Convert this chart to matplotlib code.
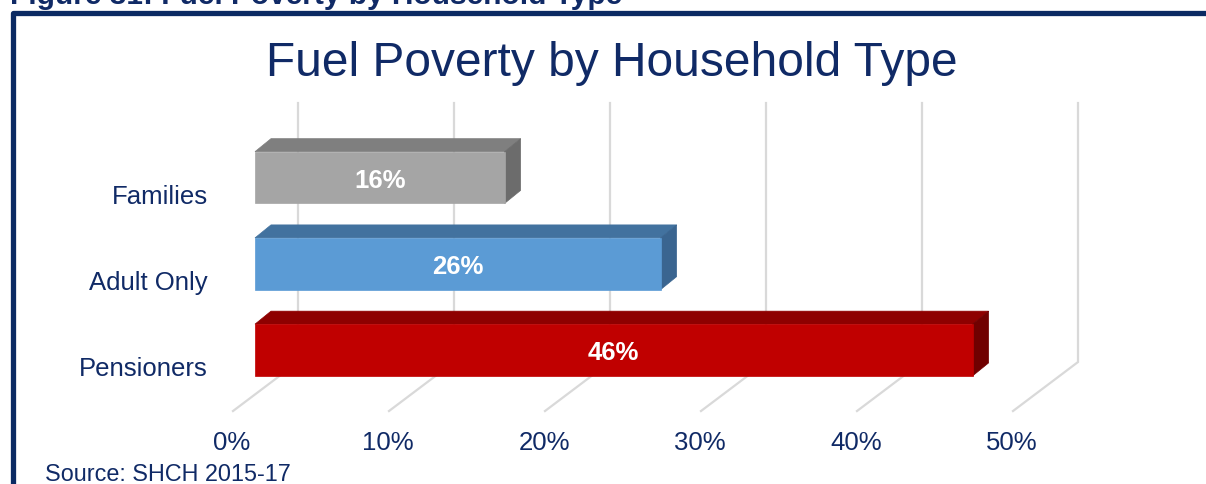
import matplotlib
matplotlib.use("Agg")
import matplotlib.pyplot as plt
from matplotlib.patches import Rectangle, Polygon
from matplotlib.lines import Line2D

plt.rcParams['font.family'] = ['Liberation Sans', 'DejaVu Sans']

# Data
categories = ["Families", "Adult Only", "Pensioners"]
values = [16, 26, 46]
tick_values = [0, 10, 20, 30, 40, 50]
tick_labels = ["0%", "10%", "20%", "30%", "40%", "50%"]

NAVY = "#102A66"
GRID = "#D9D9D9"
front_colors = ["#A5A5A5", "#5B9BD5", "#C00000"]
top_colors = ["#7F7F7F", "#42729F", "#8E0000"]
side_colors = ["#6C6C6C", "#3A6590", "#700000"]

W, H, DPI = 1206, 484, 100
fig = plt.figure(figsize=(W / DPI, H / DPI), dpi=DPI)
fig.patch.set_facecolor("white")

# Plot area (pixel layout of the front plane of the bars)
ax_left, ax_right = 255, 1035
ax_top, ax_bottom = 134.4, 393.15
ax = fig.add_axes([ax_left / W, (H - ax_bottom) / H,
                   (ax_right - ax_left) / W, (ax_bottom - ax_top) / H])
ax.set_xlim(0, 50)
ax.set_ylim(-0.5, 2.5)
ax.axis("off")

PX_X = (ax_right - ax_left) / 50.0      # pixels per percentage point
PX_Y = (ax_bottom - ax_top) / 3.0       # pixels per category step


def shift(x, y, dx_px, dy_px):
    """Offset a data point by a pixel amount (dy positive = up)."""
    return x + dx_px / PX_X, y + dy_px / PX_Y


# Perspective depth of the chart box and of the bars
BACK_DX, BACK_DY = 43, -12     # back wall base relative to the bar front plane
FLOOR_DX, FLOOR_DY = -22, -61  # front edge of the floor
WALL_TOP = 259                 # height of back wall above its base (px)
BAR_DX, BAR_DY = 16, 13
BAR_H = 0.6

# Gridlines: vertical on back wall, diagonal across floor
for v in tick_values:
    bx, by = shift(v, 0, BACK_DX, BACK_DY)
    _, ty = shift(v, 0, BACK_DX, BACK_DY + WALL_TOP)
    fx, fy = shift(v, 0, FLOOR_DX, FLOOR_DY)
    ax.plot([bx, bx, fx], [ty, by, fy], color=GRID, lw=1.6,
            solid_joinstyle="miter", clip_on=False, zorder=1)

# 3D bars
for i, (cat, val) in enumerate(zip(categories, values)):
    y = len(categories) - 1 - i
    yb, yt = y - BAR_H / 2, y + BAR_H / 2
    dx, dy = BAR_DX / PX_X, BAR_DY / PX_Y
    top = Polygon([(0, yt), (val, yt), (val + dx, yt + dy), (dx, yt + dy)],
                  closed=True, facecolor=top_colors[i], edgecolor=top_colors[i],
                  lw=0.5, clip_on=False, zorder=3)
    side = Polygon([(val, yb), (val, yt), (val + dx, yt + dy), (val + dx, yb + dy)],
                   closed=True, facecolor=side_colors[i], edgecolor=side_colors[i],
                   lw=0.5, clip_on=False, zorder=3)
    front = Rectangle((0, yb), val, BAR_H, facecolor=front_colors[i],
                      edgecolor=front_colors[i], lw=0.5, clip_on=False, zorder=4)
    for p in (top, side, front):
        ax.add_patch(p)
    ax.text(val / 2, y - 3 / PX_Y, f"{val}%", ha="center", va="center",
            color="white", fontsize=18.5, fontweight="bold", zorder=5)
    lx, ly = shift(0, y, -47, -19)
    ax.text(lx, ly, cat, ha="right", va="center", color=NAVY, fontsize=18.5,
            clip_on=False)

# Value axis labels along the front edge of the floor
for v, lab in zip(tick_values, tick_labels):
    tx, ty = shift(v, 0, -23, -93)
    ax.text(tx, ty, lab, ha="center", va="center", color=NAVY, fontsize=18.5,
            clip_on=False)

# Title, caption, source
fig.text(612 / W, (H - 63) / H, "Fuel Poverty by Household Type",
         ha="center", va="center", color=NAVY, fontsize=34.5)
fig.text(10 / W, (H - 3.5) / H, "Figure 31: Fuel Poverty by Household Type",
         ha="left", va="baseline", color=NAVY, fontsize=21.5, fontweight="bold")
fig.text(45 / W, (H - 481) / H, "Source: SHCH 2015-17", ha="left",
         va="baseline", color=NAVY, fontsize=16.8)

# Frame around the chart
frame = Line2D([12.5 / W, 12.5 / W, 1.01], [-0.01, (H - 12.5) / H, (H - 12.5) / H],
               transform=fig.transFigure, color="#0B2A63", lw=3.8,
               solid_joinstyle="round")
fig.add_artist(frame)

fig.savefig("out.png", dpi=DPI, facecolor="white")
